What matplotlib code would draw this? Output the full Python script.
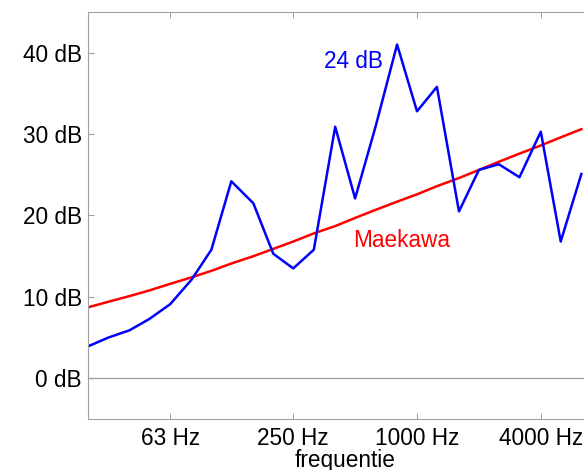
import matplotlib
matplotlib.use('Agg')
import matplotlib.pyplot as plt

plt.rcParams['font.family'] = ['Liberation Sans', 'DejaVu Sans']

# tertsbanden
freq = [25, 31.5, 40, 50, 63, 80, 100, 125, 160, 200, 250, 315, 400, 500,
        630, 800, 1000, 1250, 1600, 2000, 2500, 3150, 4000, 5000, 6300]
meting = [3.9, 5.0, 5.9, 7.3, 9.1, 12.1, 15.8, 24.2, 21.5, 15.3, 13.5, 15.8, 30.9,
          22.1, 31.0, 41.0, 32.8, 35.8, 20.5, 25.6, 26.3, 24.7, 30.3, 16.8, 25.1]
maekawa = [8.7, 9.4, 10.1, 10.8, 11.6, 12.4, 13.2, 14.1, 15.0, 15.9, 16.8, 17.8, 18.7,
           19.7, 20.7, 21.7, 22.6, 23.6, 24.6, 25.6, 26.6, 27.6, 28.6, 29.6, 30.6]
xticks = [63, 250, 1000, 4000]
yticks = [0, 10, 20, 30, 40]

fs = 16.3
fig = plt.figure(figsize=(5.84, 4.70), dpi=100)
ax = fig.add_axes([0.15, 0.1085, 0.882, 0.866])

ax.axhline(0, color='#a0a0a0', lw=1)
ax.plot(freq, maekawa, color='#ff0000', lw=1.8)
ax.plot(freq, meting, color='#0000ff', lw=1.8)

ax.set_xscale('log')
ax.set_xlim(25, 8000)
ax.set_ylim(-5, 45)
ax.set_xticks(xticks)
ax.set_xticklabels([f'{t} Hz' for t in xticks])
ax.minorticks_off()
ax.set_yticks(yticks)
ax.set_yticklabels([f'{t} dB' for t in yticks])

for s in ax.spines.values():
    s.set_color('#a0a0a0')
ax.spines['right'].set_visible(False)
ax.tick_params(direction='in', length=4, color='#a0a0a0', labelsize=fs, top=True)
ax.tick_params(axis='x', pad=6)
ax.tick_params(axis='y', pad=4)

ax.text(354, 38.9, '24 dB', color='#0000ff', fontsize=fs, ha='left', va='center')
ax.text(491, 16.9, 'Maekawa', color='#ff0000', fontsize=fs, ha='left', va='center')
ax.set_xlabel('frequentie', fontsize=fs, labelpad=-1)

fig.savefig('out.png', dpi=100)
